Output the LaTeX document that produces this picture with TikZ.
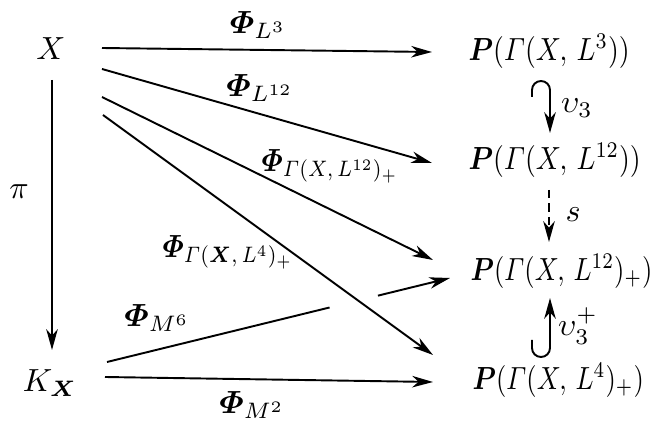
\documentclass[tikz,border=0pt]{standalone}
\usepackage{amsmath}
\usepackage{bm}
\usepackage{tikz}
\usetikzlibrary{arrows.meta, positioning, calc}

\newcommand{\narrow}[2][0.87]{\scalebox{#1}[1]{#2}}

\begin{document}
\begin{tikzpicture}[
  x=0.3125pt, y=-0.3125pt,
  every node/.style={inner sep=0pt},
  obj/.style={anchor=west},
  arr/.style={-{Stealth[length=6.5pt, width=3.6pt, inset=2pt]}, line width=0.6pt},
  dsh/.style={arr, dash pattern=on 2.6pt off 1.6pt}
]
\useasboundingbox (0,0) rectangle (651,421);

% objects
\node[anchor=center] (x)  at (51,49)  {$X$};
\node[anchor=center] (kx) at (50,383) {$K_{\bm{X}}$};
\node[obj] (p3)  at (468,51)  {\narrow{$\bm{P}(\varGamma(X,\,L^{3}))$}};
\node[obj] (p12) at (468,160) {\narrow{$\bm{P}(\varGamma(X,\,L^{12}))$}};
\node[obj] (pp)  at (470,271) {\narrow[0.83]{$\bm{P}(\varGamma(X,\,L^{12})_{+})$}};
\node[obj] (p4)  at (472,380) {\narrow[0.83]{$\bm{P}(\varGamma(X,\,L^{4})_{+})$}};

% labels
\node (lpi)  at (19,192)  {$\pi$};
\node (ll3)  at (258,25)  {$\bm{\varPhi}_{L^{3}}$};
\node (ll12) at (260,88)  {$\bm{\varPhi}_{L^{12}}$};
\node[anchor=west] (lg12) at (261,166) {\narrow{$\bm{\varPhi}_{\varGamma(X,\,L^{12})_{+}}$}};
\node[anchor=west] (lg4)  at (162,252) {\narrow{$\bm{\varPhi}_{\varGamma(\bm{X},\,L^{4})_{+}}$}};
\node (lm6)  at (157,318) {$\bm{\varPhi}_{M^{6}}$};
\node (lm2)  at (252,405) {$\bm{\varPhi}_{M^{2}}$};
\node (lv3)  at (577,108) {$\upsilon_{3}$};
\node (ls)   at (573,215) {$s$};
\node (lv3p) at (578,326) {$\upsilon_{3}^{+}$};

% maps out of X
\draw[arr] ([shift={(51,-1)}]x.center) -- ([shift={(-36,1)}]p3.west);
\draw[arr] ([shift={(51,20)}]x.center) -- ([shift={(-36,3)}]p12.west);
\draw[arr] ([shift={(51,48)}]x.center) -- ([shift={(-37,-11)}]pp.west);
\draw[arr] ([shift={(52,66)}]x.center) -- ([shift={(-39,-25)}]p4.west);
\draw[arr] ([shift={(1,31)}]x.center) -- ([shift={(2,-33)}]kx.center);

% maps out of K_X (M^6 broken where it passes under)
\coordinate (m6s) at ([shift={(57,-21)}]kx.center);
\coordinate (m6e) at ([shift={(-20,7)}]pp.west);
\coordinate (m6a) at ($(m6s)!0.649!(m6e)$);
\coordinate (m6b) at ($(m6s)!0.790!(m6e)$);
\draw[line width=0.6pt] (m6s) -- (m6a);
\draw[arr] (m6b) -- (m6e);
\draw[arr] ([shift={(55,-6)}]kx.center) -- ([shift={(-39,2)}]p4.west);

% right column
\draw[arr] ([shift={(64,-63)}]p12.west) -- ++(0,-7)
  arc[start angle=180, end angle=360, radius=9] -- ([shift={(82,-27)}]p12.west);
\draw[dsh] ([shift={(81,30)}]p12.west) -- ([shift={(79,-29)}]pp.west);
\draw[arr] ([shift={(60,-40)}]p4.west) -- ++(0,8)
  arc[start angle=180, end angle=0, radius=9] -- ([shift={(80,27)}]pp.west);
\end{tikzpicture}
\end{document}
